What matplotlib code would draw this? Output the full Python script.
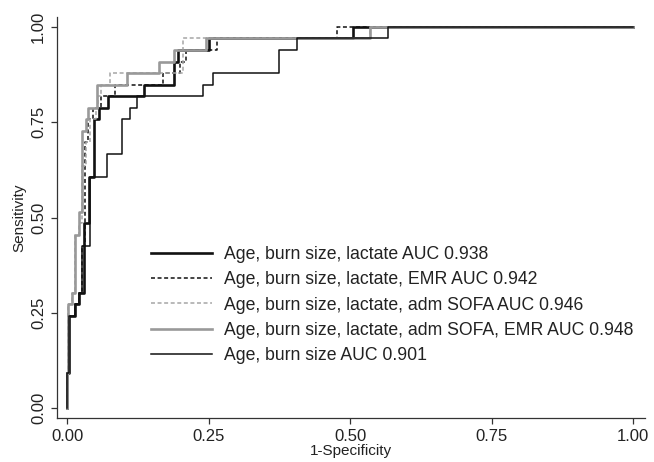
import matplotlib
matplotlib.use("Agg")
import matplotlib.pyplot as plt

plt.rcParams['font.family'] = ['Liberation Sans', 'DejaVu Sans']

# --- ROC step points (fpr where the curve jumps, tpr after the jump) ---
lac_fpr = [0, 0, 0.004, 0.013, 0.020, 0.029, 0.038, 0.047, 0.056, 0.072, 0.136, 0.189, 0.196, 0.250, 0.505, 1.0]
lac_tpr = [0, 0.091, 0.242, 0.273, 0.303, 0.485, 0.606, 0.758, 0.788, 0.818, 0.848, 0.909, 0.939, 0.970, 1.0, 1.0]

emr_fpr = [0, 0, 0.004, 0.013, 0.020, 0.026, 0.031, 0.036, 0.046, 0.060, 0.084, 0.170, 0.200, 0.210, 0.264, 0.476, 1.0]
emr_tpr = [0, 0.091, 0.242, 0.273, 0.303, 0.424, 0.697, 0.758, 0.788, 0.818, 0.848, 0.879, 0.909, 0.939, 0.970, 1.0, 1.0]

sofa_fpr = [0, 0, 0.001, 0.008, 0.014, 0.020, 0.026, 0.033, 0.040, 0.050, 0.055, 0.060, 0.075, 0.205, 0.535, 1.0]
sofa_tpr = [0, 0.091, 0.273, 0.303, 0.455, 0.485, 0.636, 0.697, 0.758, 0.788, 0.818, 0.848, 0.879, 0.970, 1.0, 1.0]

full_fpr = [0, 0, 0.001, 0.008, 0.014, 0.020, 0.027, 0.033, 0.036, 0.052, 0.105, 0.162, 0.189, 0.245, 0.535, 1.0]
full_tpr = [0, 0.091, 0.273, 0.303, 0.455, 0.515, 0.727, 0.758, 0.788, 0.848, 0.879, 0.909, 0.939, 0.970, 1.0, 1.0]

base_fpr = [0, 0, 0.0035, 0.013, 0.020, 0.026, 0.041, 0.070, 0.097, 0.111, 0.123, 0.240, 0.257, 0.374, 0.406, 0.567, 1.0]
base_tpr = [0, 0.091, 0.242, 0.273, 0.303, 0.424, 0.606, 0.667, 0.758, 0.788, 0.818, 0.848, 0.879, 0.939, 0.970, 1.0, 1.0]

labels = [
    "Age, burn size, lactate AUC 0.938",
    "Age, burn size, lactate, EMR AUC 0.942",
    "Age, burn size, lactate, adm SOFA AUC 0.946",
    "Age, burn size, lactate, adm SOFA, EMR AUC 0.948",
    "Age, burn size AUC 0.901",
]
ticks = [0, 0.25, 0.5, 0.75, 1.0]
tick_labels = ["0.00", "0.25", "0.50", "0.75", "1.00"]

fig = plt.figure(figsize=(6.54, 4.62), dpi=100)
ax = fig.add_axes([0.0872, 0.0952, 0.899, 0.868])

ax.plot(lac_fpr, lac_tpr, drawstyle='steps-post', color='#111111', lw=1.9, label=labels[0])
ax.plot(emr_fpr, emr_tpr, drawstyle='steps-post', color='#111111', lw=1.1,
        linestyle=(0, (2.6, 1.7)), label=labels[1])
ax.plot(sofa_fpr, sofa_tpr, drawstyle='steps-post', color='#a6a6a6', lw=1.1,
        linestyle=(0, (2.6, 1.7)), label=labels[2])
ax.plot(full_fpr, full_tpr, drawstyle='steps-post', color='#999999', lw=1.9, label=labels[3])
ax.plot(base_fpr, base_tpr, drawstyle='steps-post', color='#111111', lw=1.1, label=labels[4])

ax.set_xlim(-0.018, 1.021)
ax.set_ylim(-0.026, 1.026)
ax.spines['top'].set_visible(False)
ax.spines['right'].set_visible(False)
for s in ('left', 'bottom'):
    ax.spines[s].set_color('#333333')
    ax.spines[s].set_linewidth(0.9)

ax.set_xticks(ticks)
ax.set_xticklabels(tick_labels)
ax.set_yticks(ticks)
ax.set_yticklabels(tick_labels, rotation=90, va='center')
ax.tick_params(axis='both', direction='out', length=4, width=0.9, color='#333333',
               labelsize=12, labelcolor='#222222', pad=4)

ax.set_xlabel("1-Specificity", fontsize=11, color='#222222', labelpad=0)
ax.set_ylabel("Sensitivity", fontsize=11, color='#222222', labelpad=3)

leg = ax.legend(loc='upper left', bbox_to_anchor=(151 / 654, 1 - 246 / 462),
                bbox_transform=fig.transFigure, frameon=False, fontsize=12.7,
                handlelength=3.45, handletextpad=0.68, labelspacing=0.47,
                borderpad=0, borderaxespad=0)
for t in leg.get_texts():
    t.set_color('#222222')

fig.savefig("out.png", dpi=100)
